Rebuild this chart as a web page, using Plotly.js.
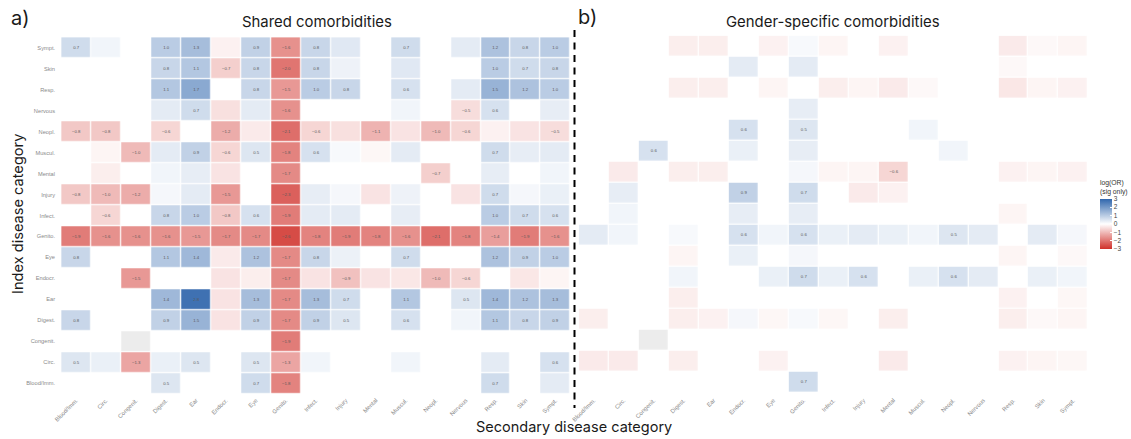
<!DOCTYPE html>
<html><head><meta charset="utf-8">
<script src="https://cdn.plot.ly/plotly-3.0.1.min.js"></script>
<style>html,body{margin:0;padding:0;background:#fff}#chart{width:1131px;height:439px}.main-svg{opacity:.999}</style>
</head><body><div id="chart"></div>
<script>
const n = null;
const secondaryCats = ["Blood/Imm.","Circ.","Congenit.","Digest.","Ear","Endocr.","Eye","Genito.","Infect.","Injury","Mental","Muscul.","Neopl.","Nervous","Resp.","Skin","Sympt."];
const indexCats = ["Sympt.","Skin","Resp.","Nervous","Neopl.","Muscul.","Mental","Injury","Infect.","Genito.","Eye","Endocr.","Ear","Digest.","Congenit.","Circ.","Blood/Imm."];
const sharedValues = [
 [0.7,0.2,n,1.0,1.3,-0.2,0.9,-1.6,0.8,0.45,n,0.7,n,0.4,1.2,0.8,1.0],
 [n,n,n,0.8,1.1,-0.7,0.8,-2.0,0.8,0.25,n,0.45,n,n,1.0,0.7,0.8],
 [n,n,n,1.1,1.7,n,0.8,-1.5,1.0,0.8,n,0.6,n,0.4,1.5,1.2,1.0],
 [n,n,n,0.4,0.7,-0.45,0.4,-1.6,n,n,n,0.2,n,-0.5,0.6,n,0.35],
 [-0.8,-0.8,n,-0.6,n,-1.2,-0.3,-2.1,-0.6,-0.45,-1.1,-0.4,-1.0,-0.6,-0.2,-0.4,-0.5],
 [n,-0.15,-1.0,0.4,0.9,-0.6,0.5,-1.8,0.6,0.12,-0.12,0.4,n,n,0.7,0.35,0.4],
 [n,-0.25,n,0.2,0.35,-0.4,n,-1.7,n,n,n,n,-0.7,n,0.35,n,0.2],
 [-0.8,-1.0,-1.2,0.15,0.4,-1.5,n,-2.3,0.35,0.15,-0.4,0.25,n,-0.4,0.7,0.15,0.3],
 [n,-0.6,n,0.8,1.0,-0.8,0.6,-1.9,0.4,0.4,n,0.35,n,n,1.0,0.7,0.6],
 [-1.9,-1.6,-1.6,-1.6,-1.5,-1.7,-1.7,-2.6,-1.8,-1.9,-1.8,-1.6,-2.1,-1.8,-1.4,-1.9,-1.6],
 [0.8,n,n,1.1,1.4,-0.3,1.2,-1.7,0.8,0.28,n,0.7,n,n,1.2,0.9,1.0],
 [n,n,-1.5,n,n,-0.4,-0.25,-1.7,-0.4,-0.9,-0.4,-0.35,-1.0,-0.6,n,-0.35,-0.15],
 [n,n,n,1.4,2.8,-0.4,1.3,-1.7,1.3,0.7,n,1.1,n,0.5,1.4,1.2,1.3],
 [0.8,n,n,0.9,1.5,-0.4,0.9,-1.7,0.9,0.5,n,0.6,n,0.2,1.1,0.8,0.9],
 [n,n,n,n,n,n,n,-1.9,n,n,n,n,n,n,n,n,n],
 [0.5,0.3,-1.3,0.3,0.5,n,0.5,-1.3,0.2,n,n,0.2,n,n,0.4,n,0.6],
 [n,n,n,0.5,n,n,0.7,-1.8,n,n,n,n,n,n,0.7,n,0.4]
];
const genderValues = [
 [n,n,n,-0.25,-0.25,n,-0.2,0.12,-0.15,n,-0.2,n,n,n,-0.3,-0.1,-0.15],
 [n,n,n,n,n,0.4,n,0.4,n,n,n,n,n,n,-0.1,n,n],
 [n,n,n,-0.25,-0.25,n,-0.15,n,-0.25,-0.15,-0.3,-0.1,n,n,-0.35,-0.15,-0.2],
 [n,n,n,n,n,n,n,0.35,n,n,n,n,n,n,n,n,n],
 [n,n,n,n,n,0.6,n,0.5,n,n,n,0.2,n,n,n,n,n],
 [n,n,0.6,n,n,0.3,n,0.35,n,n,n,n,0.2,n,n,n,n],
 [n,-0.3,n,-0.25,-0.25,n,n,0.15,-0.15,-0.15,-0.6,n,n,n,-0.2,-0.15,-0.2],
 [n,0.35,n,n,n,0.9,n,0.7,n,-0.3,-0.2,n,n,n,n,n,n],
 [n,0.2,n,n,n,0.35,n,0.35,n,n,n,n,n,n,-0.15,n,n],
 [0.4,0.2,n,0.12,n,0.6,0.2,0.6,0.3,0.4,0.3,0.2,0.5,0.4,n,0.4,0.15],
 [n,n,n,-0.15,n,0.3,n,0.15,n,n,n,n,n,n,-0.15,n,-0.1],
 [n,n,n,0.2,n,n,0.3,0.7,0.3,0.6,n,0.3,0.6,0.4,n,0.3,0.2],
 [n,n,n,-0.25,n,n,n,n,n,n,n,n,n,n,-0.2,n,-0.12],
 [-0.25,n,n,-0.25,-0.2,0.15,-0.12,0.12,-0.12,n,-0.25,n,n,n,-0.25,-0.1,-0.15],
 [n,n,n,n,n,n,n,n,n,n,n,n,n,n,n,n,n],
 [-0.3,-0.3,n,-0.25,n,n,-0.2,n,n,n,-0.3,n,n,n,-0.2,-0.15,-0.12],
 [n,n,n,n,n,n,n,0.7,n,n,n,n,n,n,n,n,n]
];
const missingCategory = "Congenit.";
const legendTicks = [3,2,1,0,-1,-2,-3];
const legendLabels = ["3","2","1","0","−1","−2","−3"];

const fmt = m => m.map(r => r.map(v => (v !== null && Math.abs(v) >= 0.5) ? v.toFixed(1).replace("-", "−") : ""));
const missingFlags = indexCats.map(r => secondaryCats.map(c => (r === missingCategory && c === missingCategory) ? 1 : null));
const W = 1131, H = 439;
const fx = p => p / W, fy = p => 1 - p / H;
const SANS = "Liberation Sans, Arial, sans-serif";
const HEAD = "Inter, Open Sans, sans-serif";

const cell = (z, xa, ya) => ({
  type: "heatmap", x: secondaryCats, y: indexCats, z: z, xaxis: xa, yaxis: ya,
  coloraxis: "coloraxis", xgap: 1.2, ygap: 1.2, hoverongaps: false,
  text: fmt(z), texttemplate: "%{text}", textfont: {size: 4.3, color: "#5a5a5a", family: SANS}
});
const na = (xa, ya) => ({
  type: "heatmap", x: secondaryCats, y: indexCats, z: missingFlags, xaxis: xa, yaxis: ya,
  showscale: false, zmin: 0, zmax: 1, xgap: 1.2, ygap: 1.2, hoverongaps: false,
  colorscale: [[0, "#ececec"], [1, "#ececec"]]
});
const xAxis = d => ({
  domain: d, type: "category", categoryorder: "array", categoryarray: secondaryCats, range: [-0.5, 16.5],
  tickangle: -45, showgrid: false, zeroline: false, showline: false, ticks: "", ticklabelstandoff: 1,
  tickfont: {size: 5.9, color: "#8a8a8a", family: SANS}
});
const yAxis = (d, show) => ({
  domain: d, type: "category", categoryorder: "array", categoryarray: indexCats, range: [16.5, -0.5],
  showgrid: false, zeroline: false, showline: false, showticklabels: show, ticks: show ? "outside" : "",
  ticklen: 4, tickcolor: "rgba(0,0,0,0)", tickfont: {size: 5.7, color: "#8a8a8a", family: SANS}
});
const note = (text, x, y, size, extra) => Object.assign({
  text, x: fx(x), y: fy(y), xref: "paper", yref: "paper", showarrow: false,
  font: {size, color: "#1a1a1a", family: HEAD}, xanchor: "center", yanchor: "middle"
}, extra || {});

Plotly.newPlot("chart",
  [cell(sharedValues, "x", "y"), na("x", "y"), cell(genderValues, "x2", "y2"), na("x2", "y2")],
  {
    width: W, height: H, paper_bgcolor: "#fff", plot_bgcolor: "#fff", showlegend: false,
    margin: {l: 0, r: 0, t: 0, b: 0, autoexpand: false},
    xaxis: xAxis([fx(61.2), fx(570.6)]),
    yaxis: yAxis([fy(393.8), fy(37.2)], true),
    xaxis2: xAxis([fx(578.8), fx(1088.2)]),
    yaxis2: yAxis([fy(392.3), fy(35.7)], false),
    coloraxis: {
      cmin: -3, cmax: 3,
      colorscale: [[0, "#d0302a"], [0.5, "#ffffff"], [1, "#3167ad"]],
      colorbar: {
        x: fx(1100), xanchor: "left", xpad: 0, y: fy(249), yanchor: "bottom", ypad: 0,
        lenmode: "pixels", len: 72, thicknessmode: "pixels", thickness: 12,
        outlinewidth: 0, ticks: "inside", ticklen: 2, tickcolor: "#fff", tickwidth: 1,
        tickmode: "array", tickvals: legendTicks, ticktext: legendLabels, tickangle: 0,
        tickfont: {size: 6.5, color: "#444", family: SANS},
        title: {text: "log(OR)<br>(sig only)", side: "top", font: {size: 6.8, color: "#333", family: SANS}}
      }
    },
    annotations: [
      note("a)", 20, 18, 20),
      note("b)", 587, 17, 20),
      note("Shared comorbidities", 316.7, 22, 14.9),
      note("Gender-specific comorbidities", 832.5, 22, 14.9),
      note("Secondary disease category", 574, 427, 14.5),
      note("Index disease category", 18, 214, 14.6, {textangle: -90})
    ],
    shapes: [{
      type: "line", xref: "paper", yref: "paper", x0: fx(574.5), x1: fx(574.5), y0: fy(30), y1: fy(408),
      line: {color: "#000", width: 2, dash: "7px,5.5px"}
    }]
  },
  {displayModeBar: false, responsive: false}
);
</script></body></html>
